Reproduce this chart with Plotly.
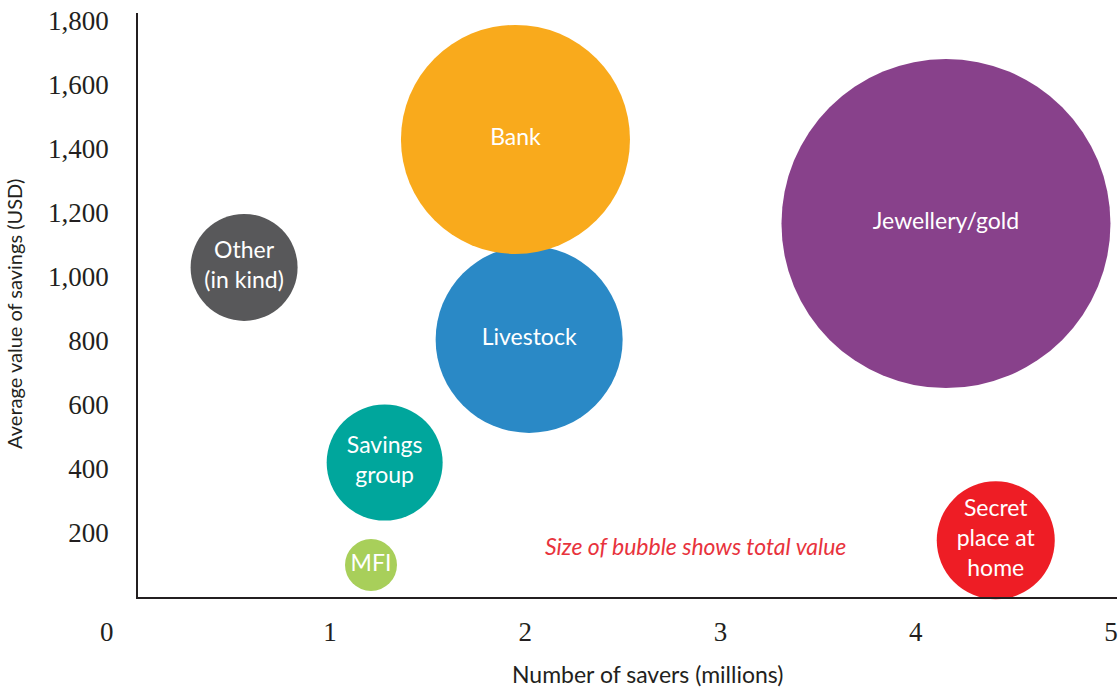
import plotly.graph_objects as go

# Data
categories = ["Other<br>(in kind)", "Savings<br>group", "MFI", "Livestock", "Bank",
              "Jewellery/gold", "Secret<br>place at<br>home"]
savers_millions = [0.56, 1.28, 1.21, 2.02, 1.95, 4.155, 4.41]
avg_value_usd = [1030, 420, 100, 805, 1430, 1167, 177]
total_value = [513, 603, 121, 1567, 2350, 4850, 624]
colors = ["#58585A", "#00A69C", "#A8CF5A", "#2A89C6", "#F9AA1C", "#88418B", "#EE1D25"]

y_ticks = [200, 400, 600, 800, 1000, 1200, 1400, 1600, 1800]
x_ticks = [1, 2, 3, 4, 5]

SERIF = "Liberation Serif"
SANS = "Lato"

fig = go.Figure()
fig.add_trace(go.Scatter(
    x=savers_millions,
    y=avg_value_usd,
    mode="markers+text",
    text=categories,
    textposition="middle center",
    textfont=dict(family=SANS, size=23, color="white"),
    marker=dict(
        size=total_value,
        sizemode="area",
        sizeref=2 * max(total_value) / (329 ** 2),
        color=colors,
        opacity=1,
        line=dict(width=0),
    ),
    cliponaxis=False,
    hoverinfo="skip",
    showlegend=False,
))

fig.update_layout(
    width=1118,
    height=690,
    margin=dict(l=138, r=1, t=13, b=93),
    paper_bgcolor="white",
    plot_bgcolor="white",
    xaxis=dict(
        range=[0.0166, 5.031],
        tickvals=x_ticks,
        ticks="",
        showgrid=False,
        zeroline=False,
        showline=True,
        linecolor="#231F20",
        linewidth=1.5,
        tickfont=dict(family=SERIF, size=27, color="#231F20"),
        ticklabelstandoff=10,
    ),
    yaxis=dict(
        range=[0, 1825],
        tickvals=y_ticks,
        tickformat=",",
        ticks="",
        showgrid=False,
        zeroline=False,
        showline=True,
        linecolor="#231F20",
        linewidth=1.5,
        tickfont=dict(family=SERIF, size=27, color="#231F20"),
        ticklabelstandoff=22,
    ),
    annotations=[
        dict(text="0", x=-0.0317, y=0, xref="paper", yref="paper", xanchor="center", yanchor="middle",
             yshift=-35, showarrow=False,
             font=dict(family=SERIF, size=27, color="#231F20")),
        dict(text="Number of savers (millions)", x=0.52, y=-0.132, xref="paper", yref="paper",
             xanchor="center", yanchor="middle", showarrow=False,
             font=dict(family=SANS, size=23, color="#231F20")),
        dict(text="Average value of savings (USD)", x=-0.1267, y=0.4846, xref="paper", yref="paper",
             xanchor="center", yanchor="middle", textangle=-90, showarrow=False,
             font=dict(family=SANS, size=20, color="#231F20")),
        dict(text="<i>Size of bubble shows total value</i>", x=2.87, y=160, xref="x", yref="y",
             xanchor="center", yanchor="middle", showarrow=False,
             font=dict(family=SANS, size=23, color="#E8333D")),
    ],
)

fig.write_html("out.html", config={"displayModeBar": False},
               post_script="document.body.style.margin='0';")
